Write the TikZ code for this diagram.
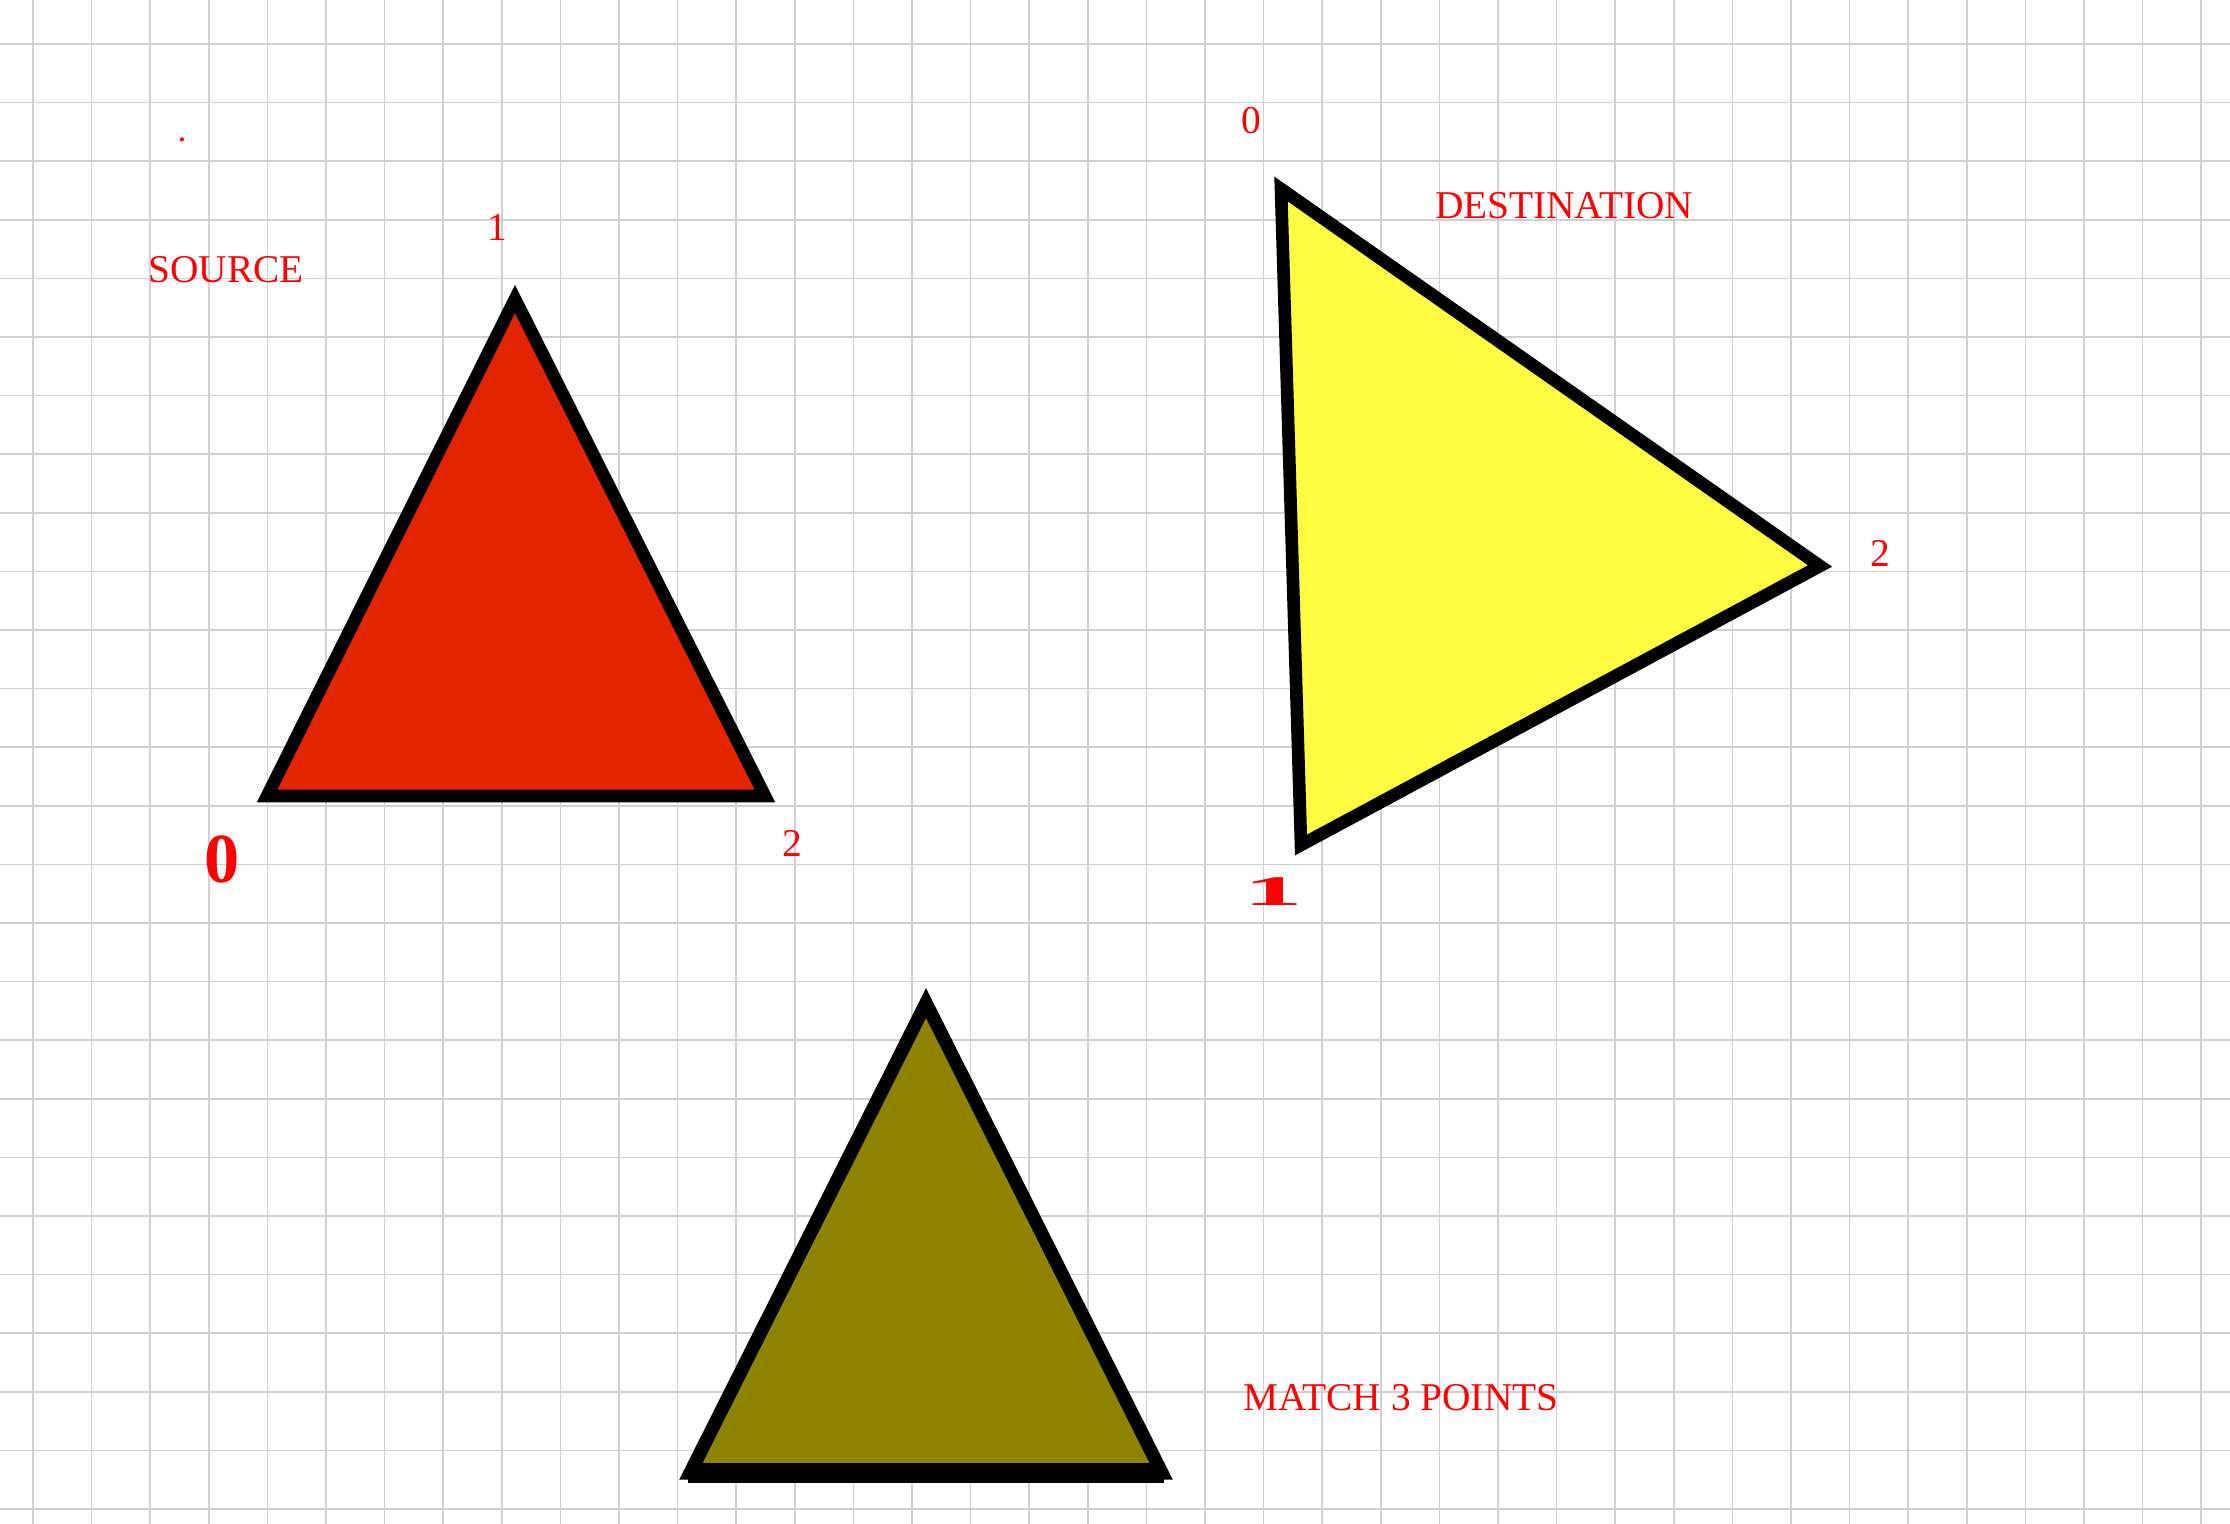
\documentclass[tikz,border=0pt]{standalone}
\usepackage{fontspec}
\setmainfont{Liberation Serif}
\usepackage{xcolor}
\usepackage{tikz}
\usetikzlibrary{calc}
\definecolor{paper}{HTML}{FFFFFF}
\definecolor{gridline}{HTML}{D0D0D0}
\definecolor{labred}{HTML}{FF0000}
\definecolor{srcfill}{HTML}{E32400}
\definecolor{dstfill}{HTML}{FFFC41}
\definecolor{matchfill}{HTML}{8E8400}
\tikzset{
  gridl/.style={draw=gridline, line width=0.45pt},
  tri/.style={draw=black, line width=3.6pt, line join=miter},
  lab/.style={text=labred, font=\fontsize{11.2}{13}\selectfont, inner sep=0pt},
  labb/.style={text=labred, font=\fontsize{20}{22}\selectfont\bfseries, inner sep=0pt},
}
\begin{document}
\begin{tikzpicture}[x=0.1mm, y=-0.1mm]
  \useasboundingbox (0,0) rectangle (2230,1524);
  \fill[paper] (0,0) rectangle (2230,1524);
  % grid paper
  \foreach \i in {0,...,37} \draw[gridl] ({33+58.6*\i},0) -- ({33+58.6*\i},1524);
  \foreach \j in {0,...,25} \draw[gridl] (0,{44+58.6*\j}) -- (2230,{44+58.6*\j});
  % source
  \coordinate (S0) at (267,796);
  \coordinate (S1) at (515,299);
  \coordinate (S2) at (765,796);
  \filldraw[tri, fill=srcfill] (S0) -- (S1) -- (S2) -- cycle;
  % destination
  \coordinate (D0) at (1281,189);
  \coordinate (D1) at (1301,845);
  \coordinate (D2) at (1820,566);
  \filldraw[tri, fill=dstfill] (D0) -- (D2) -- (D1) -- cycle;
  % match
  \coordinate (M0) at (690,1473);
  \coordinate (M1) at (926,1003);
  \coordinate (M2) at (1162,1473);
  \filldraw[tri, line width=3.8pt, fill=matchfill] (M0) -- (M1) -- (M2) -- cycle;
  \draw[black, line width=5.5pt] ($(M0)+(-2,0)$) -- ($(M2)+(2,0)$);
  % labels
  \node[lab, font=\fontsize{10}{11}\selectfont] (lbldot) at (182,140) {.};
  \node[lab] (lblsource) at (226,270) {SOURCE};
  \node[lab] (lblsrcone) at (497,228) {1};
  \node[labb] (lblsrczero) at (222,859) {0};
  \node[lab] (lblsrctwo) at (792,843) {2};
  \node[lab] (lbldstzero) at (1251,121) {0};
  \node[lab] (lbldest) at (1564,206) {DESTINATION};
  \node[lab] (lbldsttwo) at (1880,553) {2};
  \node[labb] (lbldstone) at (1273,892) {\scalebox{1.7}[0.6]{1}};
  \node[lab] (lblmatch) at (1401,1398) {MATCH 3 POINTS};
\end{tikzpicture}
\end{document}
